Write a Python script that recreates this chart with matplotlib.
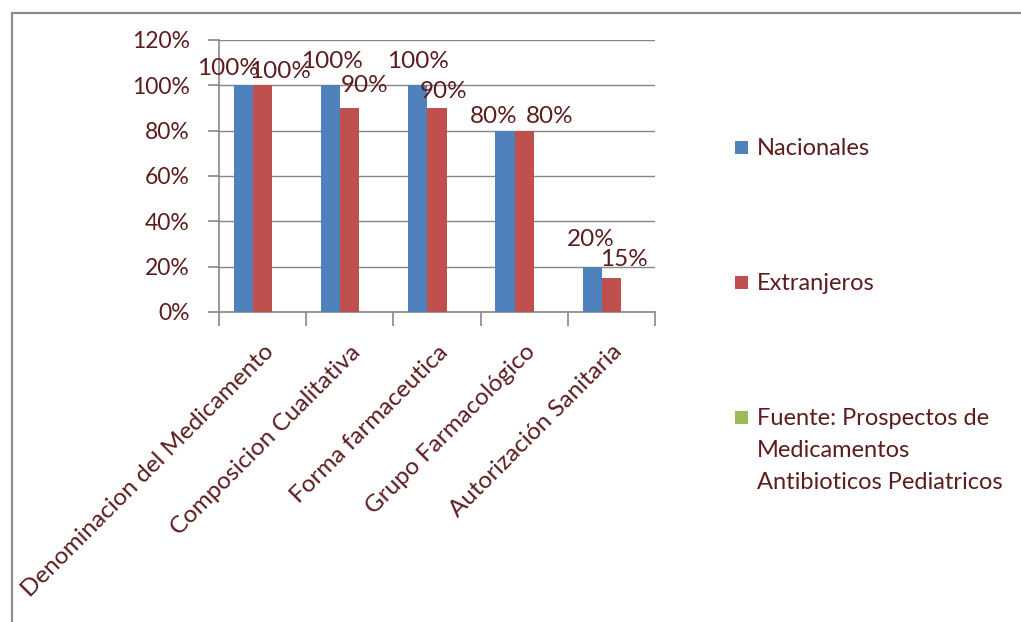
import matplotlib
matplotlib.use("Agg")
import matplotlib.pyplot as plt
from matplotlib.patches import Rectangle
from matplotlib.ticker import FuncFormatter, FixedLocator
import numpy as np

categories = ["Denominacion del Medicamento", "Composicion Cualitativa",
              "Forma farmaceutica", "Grupo Farmacológico", "Autorización Sanitaria"]
nacionales = [1.00, 1.00, 1.00, 0.80, 0.20]
extranjeros = [1.00, 0.90, 0.90, 0.80, 0.15]
fuente = [0, 0, 0, 0, 0]
series_names = ["Nacionales", "Extranjeros",
                "Fuente: Prospectos de\nMedicamentos\nAntibioticos Pediatricos"]
yticks = [0, 0.2, 0.4, 0.6, 0.8, 1.0, 1.2]

# label nudges (pixels) so overlapping value labels stay readable
nac_label_off = [(-15, 17), (1, 24), (0, 24), (-11, 14), (-1, 27)]
ext_label_off = [(17, 14), (15, 23), (7, 17), (25, 14), (13, 19)]

TXT = "#5b1d1d"
GRID = "#878787"
colors = ["#4f81bd", "#c0504d", "#9bbb59"]
plt.rcParams["font.family"] = ["Lato", "DejaVu Sans"]

W, H = 1021, 622
fig = plt.figure(figsize=(W / 100, H / 100), dpi=100)
ax = fig.add_axes([219 / W, 1 - 312 / H, (655 - 219) / W, (312 - 40) / H])

x = np.arange(len(categories))
bw = 0.22
bars_n = ax.bar(x - bw, nacionales, bw, color=colors[0], linewidth=0, zorder=3)
bars_e = ax.bar(x, extranjeros, bw, color=colors[1], linewidth=0, zorder=3)
bars_f = ax.bar(x + bw, fuente, bw, color=colors[2], linewidth=0, zorder=3)

ax.set_xlim(-0.5, len(categories) - 0.5)
ax.set_ylim(0, 1.2)
ax.set_yticks(yticks)
ax.yaxis.set_major_formatter(FuncFormatter(lambda v, p: f"{v * 100:.0f}%"))
ax.grid(axis="y", color=GRID, linewidth=1, zorder=0)
ax.set_axisbelow(True)

for s in ["top", "right"]:
    ax.spines[s].set_visible(False)
for s in ["left", "bottom"]:
    ax.spines[s].set_color(GRID)
    ax.spines[s].set_linewidth(1.2)

ax.tick_params(axis="y", length=8, width=1.2, color=GRID, labelcolor=TXT,
               labelsize=16.5, pad=13)
ax.set_xticks(x)
ax.set_xticklabels(categories, rotation=45, ha="right", va="top",
                   rotation_mode="anchor", fontsize=17.5, color=TXT)
ax.tick_params(axis="x", which="major", length=0, pad=21)
ax.xaxis.set_minor_locator(FixedLocator(np.arange(-0.5, len(categories), 1.0)))
ax.tick_params(axis="x", which="minor", length=10, width=1.2, color=GRID)

px = 0.72
for bars, vals, offs in [(bars_n, nacionales, nac_label_off),
                         (bars_e, extranjeros, ext_label_off)]:
    for b, v, (dx, dy) in zip(bars, vals, offs):
        ax.annotate(f"{v * 100:.0f}%", (b.get_x() + b.get_width() / 2, v),
                    xytext=(dx * px, dy * px), textcoords="offset points",
                    ha="center", va="center", fontsize=17.5, color=TXT,
                    annotation_clip=False, zorder=5)

# legend on the right
leg_y = [148, 283, 418]
for c, name, yy in zip(colors, series_names, leg_y):
    fig.add_artist(Rectangle((735 / W, 1 - (yy + 6) / H), 13 / W, 13 / H,
                             transform=fig.transFigure, color=c, lw=0))
    multi = "\n" in name
    fig.text(757 / W, 1 - ((yy - 10) if multi else yy) / H, name, ha="left",
             va="top" if multi else "center",
             fontsize=17, color=TXT, linespacing=1.65,
             transform=fig.transFigure)

# outer chart frame (top and left edges visible)
top = 1 - 12.5 / H
fig.add_artist(Rectangle((11.5 / W, -0.2), 1.3, top + 0.2,
                         transform=fig.transFigure, fill=False,
                         edgecolor="#8c8c8c", linewidth=1.6))

fig.savefig("out.png", dpi=100)
